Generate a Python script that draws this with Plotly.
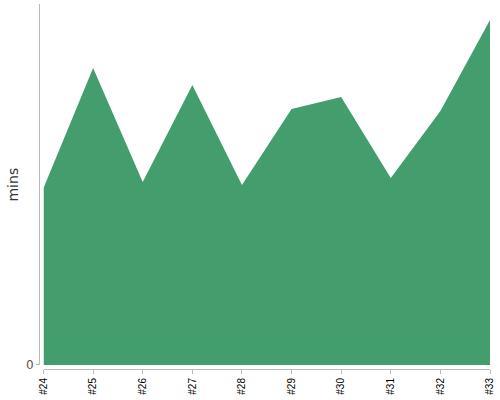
import plotly.graph_objects as go

categories = ["#24", "#25", "#26", "#27", "#28", "#29", "#30", "#31", "#32", "#33"]
mins = [17.7, 29.7, 18.3, 28.0, 18.0, 25.6, 26.8, 18.7, 25.4, 34.5]
y_ticks = [0]
y_tick_labels = ["0"]
y_title = "mins"

fig = go.Figure()
fig.add_trace(go.Scatter(
    x=categories, y=mins, mode="lines", fill="tozeroy",
    line=dict(width=0, color="#449d6c"), fillcolor="#449d6c",
    hoverinfo="x+y",
))

fig.update_layout(
    width=500, height=400,
    margin=dict(l=39, r=10, t=4, b=31),
    paper_bgcolor="white", plot_bgcolor="white",
    showlegend=False,
    font=dict(family="Liberation Sans, Arial, sans-serif", color="#333"),
    xaxis=dict(
        type="category", range=[0, 9], domain=[0.01, 1],
        anchor="free", position=0, automargin=False,
        showgrid=False, zeroline=False,
        showline=True, linecolor="#bbbbbb", linewidth=1,
        ticks="outside", ticklen=4, tickcolor="#bbbbbb",
        tickangle=-90, tickfont=dict(size=10, color="#000"),
    ),
    yaxis=dict(
        range=[0, 36.1], domain=[0.011, 1],
        anchor="free", position=0, automargin=False,
        showgrid=False, zeroline=False,
        showline=True, linecolor="#bbbbbb", linewidth=1,
        ticks="outside", ticklen=3, tickcolor="#bbbbbb",
        tickvals=y_ticks, ticktext=y_tick_labels,
        tickfont=dict(family="DejaVu Sans", size=12, color="#555"),
    ),
    annotations=[dict(
        text=y_title, textangle=-90, showarrow=False,
        xref="paper", yref="paper", x=-0.058, y=0.505,
        xanchor="center", yanchor="middle",
        font=dict(family="DejaVu Sans", size=14, color="#333"),
    )],
)

fig.write_html("out.html", config={"displayModeBar": False},
               post_script="document.body.style.margin='0';")
